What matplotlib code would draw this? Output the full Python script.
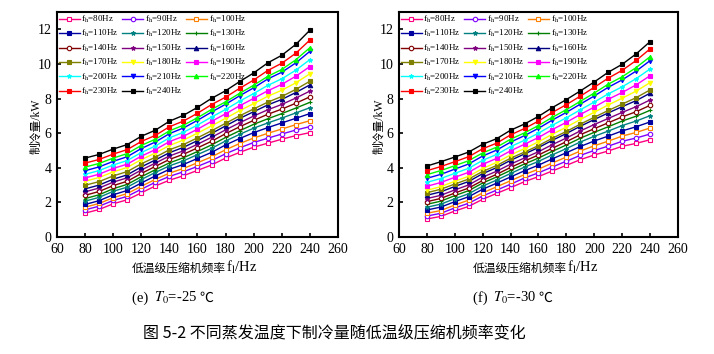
import numpy as np
import matplotlib
matplotlib.use("Agg")
import matplotlib.pyplot as plt

plt.rcParams['font.family'] = ['Liberation Serif', 'Noto Sans CJK SC']
plt.rcParams['mathtext.fontset'] = 'stix'

# low-stage compressor frequency f_l (Hz)
fl = [80, 90, 100, 110, 120, 130, 140, 150, 160, 170, 180, 190, 200, 210, 220, 230, 240]
# high-stage compressor frequency f_h (Hz), one curve each
fh = [80, 90, 100, 110, 120, 130, 140, 150, 160, 170, 180, 190, 200, 210, 220, 230, 240]

# cooling capacity (kW), T0 = -25 C
q_25 = [
    [1.38, 1.59, 1.92, 2.15, 2.55, 2.95, 3.28, 3.54, 3.85, 4.16, 4.56, 4.89, 5.19, 5.42, 5.65, 5.86, 6.03],
    [1.57, 1.78, 2.11, 2.35, 2.76, 3.16, 3.50, 3.77, 4.08, 4.41, 4.81, 5.15, 5.46, 5.71, 5.95, 6.18, 6.38],
    [1.72, 1.94, 2.27, 2.51, 2.93, 3.33, 3.69, 3.96, 4.29, 4.63, 5.04, 5.40, 5.72, 5.99, 6.24, 6.49, 6.72],
    [1.88, 2.10, 2.44, 2.69, 3.12, 3.53, 3.91, 4.19, 4.54, 4.89, 5.32, 5.69, 6.03, 6.32, 6.59, 6.86, 7.13],
    [2.07, 2.29, 2.64, 2.88, 3.32, 3.73, 4.11, 4.40, 4.76, 5.12, 5.55, 5.93, 6.29, 6.59, 6.87, 7.17, 7.47],
    [2.22, 2.44, 2.79, 3.04, 3.48, 3.89, 4.28, 4.58, 4.94, 5.32, 5.75, 6.14, 6.51, 6.83, 7.13, 7.45, 7.78],
    [2.41, 2.63, 2.97, 3.22, 3.67, 4.08, 4.48, 4.78, 5.15, 5.53, 5.97, 6.37, 6.74, 7.09, 7.39, 7.73, 8.10],
    [2.61, 2.83, 3.17, 3.42, 3.87, 4.27, 4.68, 4.98, 5.36, 5.76, 6.19, 6.60, 6.99, 7.35, 7.66, 8.03, 8.43],
    [2.78, 3.00, 3.34, 3.59, 4.05, 4.45, 4.87, 5.18, 5.57, 5.98, 6.42, 6.85, 7.24, 7.63, 7.95, 8.35, 8.79],
    [2.99, 3.20, 3.53, 3.78, 4.23, 4.61, 5.04, 5.34, 5.73, 6.14, 6.57, 7.00, 7.40, 7.79, 8.12, 8.53, 9.00],
    [3.22, 3.44, 3.76, 4.02, 4.47, 4.85, 5.29, 5.60, 6.00, 6.42, 6.86, 7.30, 7.71, 8.13, 8.48, 8.91, 9.43],
    [3.41, 3.63, 3.96, 4.21, 4.67, 5.05, 5.51, 5.82, 6.23, 6.68, 7.12, 7.58, 8.01, 8.45, 8.82, 9.29, 9.85],
    [3.62, 3.84, 4.16, 4.42, 4.88, 5.26, 5.73, 6.05, 6.47, 6.93, 7.37, 7.85, 8.29, 8.76, 9.14, 9.64, 10.25],
    [3.83, 4.05, 4.37, 4.64, 5.11, 5.49, 5.97, 6.30, 6.74, 7.22, 7.67, 8.16, 8.62, 9.13, 9.52, 10.06, 10.73],
    [4.04, 4.25, 4.56, 4.82, 5.29, 5.65, 6.13, 6.46, 6.89, 7.37, 7.81, 8.30, 8.77, 9.28, 9.68, 10.24, 10.94],
    [4.27, 4.48, 4.79, 5.05, 5.52, 5.87, 6.37, 6.70, 7.15, 7.65, 8.08, 8.59, 9.07, 9.62, 10.04, 10.62, 11.38],
    [4.56, 4.77, 5.08, 5.34, 5.82, 6.17, 6.69, 7.03, 7.49, 8.01, 8.45, 8.98, 9.48, 10.06, 10.50, 11.13, 11.95],
]

# cooling capacity (kW), T0 = -30 C
q_30 = [
    [1.04, 1.19, 1.50, 1.77, 2.18, 2.52, 2.85, 3.20, 3.49, 3.82, 4.14, 4.47, 4.74, 4.97, 5.24, 5.41, 5.62],
    [1.21, 1.37, 1.68, 1.95, 2.37, 2.71, 3.05, 3.41, 3.71, 4.05, 4.38, 4.72, 5.00, 5.25, 5.53, 5.72, 5.95],
    [1.37, 1.53, 1.85, 2.13, 2.55, 2.90, 3.25, 3.61, 3.92, 4.28, 4.62, 4.97, 5.27, 5.54, 5.83, 6.04, 6.30],
    [1.56, 1.73, 2.04, 2.33, 2.76, 3.11, 3.47, 3.83, 4.15, 4.52, 4.87, 5.23, 5.55, 5.83, 6.13, 6.37, 6.65],
    [1.72, 1.90, 2.21, 2.50, 2.94, 3.29, 3.67, 4.04, 4.37, 4.75, 5.11, 5.49, 5.82, 6.12, 6.44, 6.70, 7.01],
    [1.89, 2.07, 2.39, 2.68, 3.12, 3.47, 3.85, 4.22, 4.56, 4.95, 5.32, 5.71, 6.05, 6.37, 6.70, 6.98, 7.32],
    [2.04, 2.23, 2.54, 2.83, 3.27, 3.62, 4.02, 4.39, 4.74, 5.13, 5.51, 5.91, 6.26, 6.60, 6.94, 7.24, 7.61],
    [2.22, 2.41, 2.72, 3.01, 3.46, 3.80, 4.21, 4.57, 4.93, 5.34, 5.72, 6.13, 6.50, 6.85, 7.20, 7.53, 7.92],
    [2.41, 2.61, 2.92, 3.21, 3.66, 4.01, 4.43, 4.80, 5.17, 5.59, 5.98, 6.40, 6.79, 7.17, 7.53, 7.88, 8.31],
    [2.56, 2.76, 3.06, 3.35, 3.79, 4.13, 4.55, 4.91, 5.28, 5.71, 6.10, 6.52, 6.92, 7.31, 7.68, 8.05, 8.50],
    [2.70, 2.91, 3.22, 3.51, 3.96, 4.31, 4.74, 5.11, 5.50, 5.94, 6.35, 6.79, 7.21, 7.63, 8.02, 8.43, 8.92],
    [2.93, 3.15, 3.45, 3.74, 4.20, 4.54, 4.98, 5.36, 5.75, 6.21, 6.63, 7.08, 7.51, 7.96, 8.35, 8.79, 9.32],
    [3.16, 3.38, 3.68, 3.97, 4.43, 4.77, 5.22, 5.59, 6.00, 6.46, 6.89, 7.35, 7.80, 8.27, 8.68, 9.15, 9.71],
    [3.39, 3.62, 3.92, 4.22, 4.68, 5.02, 5.48, 5.86, 6.28, 6.76, 7.20, 7.68, 8.15, 8.65, 9.08, 9.59, 10.19],
    [3.60, 3.84, 4.12, 4.41, 4.86, 5.19, 5.65, 6.02, 6.44, 6.92, 7.36, 7.84, 8.32, 8.83, 9.26, 9.79, 10.42],
    [3.83, 4.07, 4.35, 4.64, 5.10, 5.42, 5.90, 6.27, 6.70, 7.20, 7.65, 8.14, 8.65, 9.18, 9.63, 10.20, 10.87],
    [4.10, 4.35, 4.62, 4.91, 5.36, 5.68, 6.17, 6.53, 6.97, 7.48, 7.94, 8.44, 8.96, 9.52, 9.98, 10.58, 11.29],
]

colors = ['#FF0080', '#8000FF', '#FF8000', '#0000A0', '#008080', '#008000',
          '#800000', '#800080', '#000080', '#808000', '#FFFF00', '#FF00FF',
          '#00FFFF', '#0000FF', '#00FF00', '#FF0000', '#000000']
markers = ['s', 'o', 's', 's', '*', '+', 'o', '*', '^', 's', 'v', 's',
           '*', 'v', '^', 's', 's']
hollow = [True, True, True, False, False, False, True, False, False, False,
          False, False, False, False, False, False, False]

W, H = 714, 354
fig = plt.figure(figsize=(W / 100, H / 100), dpi=100)
ax1 = fig.add_axes([0.0798, 0.3305, 0.3936, 0.6356])
ax2 = fig.add_axes([0.5588, 0.3305, 0.3908, 0.6356])

for ax, data in ((ax1, q_25), (ax2, q_30)):
    handles = []
    for i, s in enumerate(data):
        h, = ax.plot(fl, s, color=colors[i], marker=markers[i], ms=3.2, lw=1.0,
                     mfc='white' if hollow[i] else colors[i], mew=0.8,
                     label=r'f$_{\mathrm{h}}$=%dHz' % fh[i])
        handles.append(h)
    # legend is row-major in the reference, matplotlib fills columns
    order = [0, 3, 6, 9, 12, 15, 1, 4, 7, 10, 13, 16, 2, 5, 8, 11, 14]
    ax.legend([handles[k] for k in order], [handles[k].get_label() for k in order],
              loc='upper left', bbox_to_anchor=(0.0, 1.0), ncol=3, frameon=False,
              fontsize=6.5, handlelength=2.3, handletextpad=0.2, columnspacing=0.4,
              labelspacing=0.36, borderaxespad=0.0, borderpad=0.2)
    ax.set_xlim(60, 260)
    ax.set_ylim(0, 13)
    ax.set_xticks(range(60, 261, 20))
    ax.set_yticks(range(0, 13, 2))
    ax.tick_params(direction='in', length=3, width=1.2, labelsize=10)
    ax.tick_params(axis='x', pad=4.5)
    ax.tick_params(axis='y', pad=4)
    for sp in ax.spines.values():
        sp.set_linewidth(1.5)

renderer = fig.canvas.get_renderer()


def chain(parts, x_px, base_px, gap=0):
    # put text pieces one after another on a common baseline
    for s, size in parts:
        t = fig.text(x_px / W, 1 - base_px / H, s, ha='left', va='baseline', fontsize=size)
        x_px = t.get_window_extent(renderer=renderer).x1 + gap


fig.text(36 / W, 1 - 126 / H, '制冷量/kW', rotation=90, ha='center', va='center', fontsize=8.5)
fig.text(379 / W, 1 - 126 / H, '制冷量/kW', rotation=90, ha='center', va='center', fontsize=8.5)
for x0 in (132, 473):
    chain([('低温级压缩机频率', 8.5), (r'f$_{\mathrm{l}}$/Hz', 10.5)], x0, 272, gap=0)
chain([('(e) ', 10.5), (r'$T_0$=-25', 10.5), ('℃', 10)], 132, 302, gap=2)
chain([('(f) ', 10.5), (r'$T_0$=-30', 10.5), ('℃', 10)], 473, 302, gap=2)
fig.text(334 / W, 1 - 333 / H, '图 5-2 不同蒸发温度下制冷量随低温级压缩机频率变化',
         ha='center', va='center', fontsize=11.5, family='Noto Sans CJK SC')

fig.savefig("out.png")
